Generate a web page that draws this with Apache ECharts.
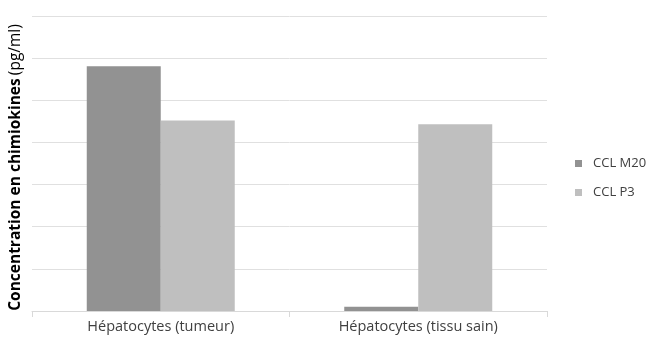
<!DOCTYPE html>
<html><head><meta charset="utf-8">
<script src="https://cdn.jsdelivr.net/npm/echarts@6/dist/echarts.min.js"></script>
<style>html,body{margin:0;padding:0;background:#fff}#c{width:656px;height:339px}</style>
</head><body><div id="c"></div>
<script>
const categories = ['Hépatocytes (tumeur)', 'Hépatocytes (tissu sain)'];
const seriesNames = ['CCL M20', 'CCL P3'];
const ccl_m20 = [5.81, 0.1];
const ccl_p3 = [4.52, 4.43];
const yTicks = [0, 1, 2, 3, 4, 5, 6, 7];

const chart = echarts.init(document.getElementById('c'));
chart.setOption({
  animation: false,
  textStyle: { fontFamily: 'Open Sans' },
  grid: { left: 27, right: 109, top: 16, bottom: 28, containLabel: false },
  legend: {
    orient: 'vertical', left: 570, top: 152, itemWidth: 7, itemHeight: 7, itemGap: 16,
    icon: 'rect',
    textStyle: { fontSize: 13, color: '#404040', fontFamily: 'Open Sans', padding: [0, 0, 0, 6] },
    data: seriesNames
  },
  xAxis: {
    type: 'category', data: categories,
    axisLine: { lineStyle: { color: '#d9d9d9' } },
    axisTick: { show: true, length: 6, lineStyle: { color: '#d9d9d9' }, interval: 0 },
    axisLabel: { fontSize: 14.5, color: '#404040', margin: 8, fontFamily: 'Open Sans' }
  },
  yAxis: {
    type: 'value', min: yTicks[0], max: yTicks[yTicks.length - 1], interval: 1,
    axisLabel: { show: false },
    axisLine: { show: false }, axisTick: { show: false },
    splitLine: { lineStyle: { color: '#e0e0e0' } },
    name: '{b|Concentration en chimiokines} {n|(pg/ml)}',
    nameLocation: 'middle', nameGap: 8, nameRotate: 90,
    nameTextStyle: {
      padding: [0, 8, 0, 0],
      rich: {
        b: { fontSize: 15.5, fontWeight: 'bold', color: '#000', fontFamily: 'Open Sans' },
        n: { fontSize: 15.5, color: '#000', fontFamily: 'Open Sans' }
      }
    }
  },
  series: [
    { name: seriesNames[0], type: 'bar', data: ccl_m20, barWidth: 74, barGap: '0%',
      itemStyle: { color: '#929292' } },
    { name: seriesNames[1], type: 'bar', data: ccl_p3, barWidth: 74, barGap: '0%',
      itemStyle: { color: '#bfbfbf' } }
  ]
});
</script></body></html>
